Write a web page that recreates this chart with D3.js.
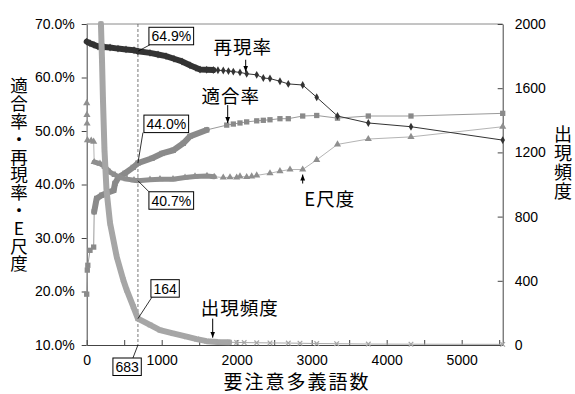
<!DOCTYPE html>
<html>
<head>
<meta charset="utf-8">
<script src="https://cdn.jsdelivr.net/npm/d3@7"></script>
<style>
  body { margin: 0; background: #fff; }
  text { font-family: "Liberation Sans", Arial, sans-serif; }
  .jp { font-family: "Noto Sans CJK JP", sans-serif; }
</style>
</head>
<body>
<svg width="575" height="394"></svg>
<script>
// [要注意多義語数, 値]
const recall = [[0,66.7],[44,66.4],[97,66.1],[151,65.8],[231,65.7],[311,65.6],[417,65.4],[524,65.25],[631,65.1],[683,64.9],
  [844,64.6],[951,64.3],[1057,64.0],[1164,63.5],[1271,63.0],[1377,62.3],[1457,61.8],[1511,61.5],[1600,61.45],[1688,61.4],
  [1750,61.35],[1821,61.3],[1890,61.2],[1955,61.1],[2044,60.95],[2133,60.7],[2267,60.5],[2355,59.9],[2444,59.8],
  [2577,59.3],[2688,58.8],[2880,58.6],[3067,56.3],[3344,52.8],[3755,51.5],[4324,50.8],[5547,48.3]];

const precision = [[0,19.5],[8,24.0],[15,24.9],[44,27.7],[93,28.3],[100,34.9],[133,37.4],[200,38.0],[267,38.4],[360,38.9],
  [377,40.2],[427,41.4],[511,42.1],[620,43.2],[683,44.0],[871,44.9],[1004,45.8],[1155,46.4],[1288,47.7],[1377,49.0],
  [1600,50.2],[1867,51.1],[1955,51.3],[2044,51.5],[2133,51.7],[2267,51.9],[2355,52.0],[2444,52.1],[2577,52.3],
  [2688,52.3],[2880,52.8],[3067,52.9],[3344,52.4],[3755,52.8],[4324,52.8],[5547,53.3]];

const eMeasure = [[0,55.2],[3,53.0],[5,51.4],[10,48.3],[60,48.2],[93,48.0],[100,44.2],[177,43.9],[244,43.3],[311,42.3],
  [377,41.8],[444,41.3],[537,41.0],[631,40.8],[683,40.7],[844,40.9],[977,41.0],[1151,41.0],[1311,41.3],[1444,41.5],
  [1604,41.6],[1700,41.45],[1821,41.3],[1911,41.35],[2000,41.3],[2044,41.5],[2133,41.4],[2200,41.5],[2267,41.7],
  [2444,42.1],[2577,42.5],[2711,42.8],[2880,42.8],[3067,44.6],[3344,47.5],[3755,48.5],[4324,48.9],[5547,50.8]];

const frequency = [[190,2000],[204,1776],[217,1527],[237,1216],[264,966],[311,760],[400,550],[488,405],[533,343],
  [621,239],[683,164],[844,125],[977,93],[1151,72],[1333,52],[1467,37],[1600,24],[1750,18],[1900,17],[2000,16],
  [2100,15],[2267,14],[2444,13],[2688,12],[2844,11],[3067,9],[3333,8],[3755,6],[4324,5],[5547,4]];

const pctTicks = [10, 20, 30, 40, 50, 60, 70];
const freqTicks = [0, 400, 800, 1200, 1600, 2000];
const wordTicks = [0, 500, 1000, 1500, 2000, 2500, 3000, 3500, 4000, 4500, 5000, 5500];

// 683語の地点の値
const markX = 683;
const markRecall = 64.9, markPrecision = 44.0, markE = 40.7, markFreq = 164;

const margin = {top: 24, right: 72.3, bottom: 49, left: 86.7},
  width = 575 - margin.left - margin.right,
  height = 394 - margin.top - margin.bottom;

const svg = d3.select("svg")
  .append("g")
  .attr("transform", `translate(${margin.left}, ${margin.top})`);

const x = d3.scaleLinear().domain([0, 5547]).range([0, width]);
const yL = d3.scaleLinear().domain([10, 70]).range([height, 0]);
const yR = d3.scaleLinear().domain([0, 2000]).range([height, 0]);

// top border
svg.append("line")
  .attr("x1", 0).attr("x2", width).attr("y1", 0).attr("y2", 0)
  .attr("stroke", "#8a8a8a");

// axes
const styleAxis = g => {
  g.select(".domain").attr("stroke", "#444");
  g.selectAll(".tick line").attr("stroke", "#444");
  g.selectAll("text").attr("font-size", 14).attr("fill", "#000")
    .attr("font-family", "Liberation Sans, Arial, sans-serif");
};

svg.append("g")
  .call(d3.axisLeft(yL).tickValues(pctTicks).tickSize(5).tickSizeOuter(0).tickPadding(7)
    .tickFormat(d => d.toFixed(1) + "%"))
  .call(styleAxis);

svg.append("g")
  .attr("transform", `translate(${width}, 0)`)
  .call(d3.axisRight(yR).tickValues(freqTicks).tickSizeInner(-5).tickSizeOuter(0).tickPadding(12)
    .tickFormat(d3.format("d")))
  .call(styleAxis);

svg.append("g")
  .attr("transform", `translate(0, ${height})`)
  .call(d3.axisBottom(x).tickValues(wordTicks).tickSizeInner(-5).tickSizeOuter(0).tickPadding(10)
    .tickFormat(d => d % 1000 === 0 ? d : ""))
  .call(styleAxis);

// dashed marker line
svg.append("line")
  .attr("x1", x(markX)).attr("x2", x(markX))
  .attr("y1", 0).attr("y2", height)
  .attr("stroke", "#555").attr("stroke-width", 0.8)
  .attr("stroke-dasharray", "3,2");

// series drawing
function drawSeries(data, yScale, opt) {
  const line = d3.line().x(d => x(d[0])).y(d => yScale(d[1]));
  svg.append("path")
    .datum(data)
    .attr("fill", "none")
    .attr("stroke", opt.line)
    .attr("stroke-width", 1)
    .attr("d", line);
  svg.append("path")
    .datum(data.filter(d => d[0] >= opt.bandFrom && d[0] <= opt.bandTo))
    .attr("fill", "none")
    .attr("stroke", opt.mark)
    .attr("stroke-width", opt.band)
    .attr("stroke-linejoin", "round")
    .attr("stroke-linecap", "round")
    .attr("d", line);
  const g = svg.append("g");
  g.selectAll("path")
    .data(data)
    .join("path")
    .attr("transform", d => `translate(${x(d[0])}, ${yScale(d[1])})`)
    .attr("d", opt.symbol)
    .attr("fill", opt.cross ? "none" : opt.mark)
    .attr("stroke", opt.cross ? opt.mark : "none")
    .attr("stroke-width", 1.2);
}

drawSeries(precision, yL, {line: "#9a9a9a", mark: "#8a8a8a", band: 6, bandFrom: 100, bandTo: 1800,
  symbol: d3.symbol(d3.symbolSquare, 28)()});
drawSeries(eMeasure, yL, {line: "#b4b4b4", mark: "#8f8f8f", band: 5, bandFrom: 100, bandTo: 1750,
  symbol: d3.symbol(d3.symbolTriangle, 22)()});
drawSeries(recall, yL, {line: "#333", mark: "#333", band: 6, bandFrom: 0, bandTo: 1700,
  symbol: d3.symbol(d3.symbolDiamond, 18)()});
drawSeries(frequency, yR, {line: "#a8a8a8", mark: "#a6a6a6", band: 6, bandFrom: 190, bandTo: 1900,
  symbol: "M-2.3,-2.3L2.3,2.3M-2.3,2.3L2.3,-2.3", cross: true});

// value callouts at 683
const callouts = [
  {text: markRecall.toFixed(1) + "%", px: x(markX), py: yL(markRecall), bx: 11, by: -24, lx: 12, ly: "bottom"},
  {text: markPrecision.toFixed(1) + "%", px: x(markX), py: yL(markPrecision), bx: 6, by: -48, lx: 5, ly: "bottom"},
  {text: markE.toFixed(1) + "%", px: x(markX), py: yL(markE), bx: 11, by: 11, lx: 11, ly: "top"},
  {text: String(markFreq), px: x(markX), py: yR(markFreq), bx: 13, by: -39, lx: 14, ly: "bottom"},
  {text: String(markX), px: x(markX), py: height, bx: -25, by: 13, lx: -5, ly: "top"}
];

callouts.forEach(c => {
  const g = svg.append("g");
  const t = g.append("text")
    .attr("font-size", 14)
    .attr("fill", "#000")
    .text(c.text);
  const w = t.node().getComputedTextLength() + 5;
  const h = 17.5;
  const bx = c.px + c.bx, by = c.py + c.by;
  const ly = c.ly === "bottom" ? by + h : by;
  g.insert("line", "text")
    .attr("x1", c.px).attr("y1", c.py)
    .attr("x2", c.px + c.lx).attr("y2", ly)
    .attr("stroke", "#000").attr("stroke-width", 0.8);
  g.insert("rect", "text")
    .attr("x", bx).attr("y", by).attr("width", w).attr("height", h)
    .attr("fill", "#fff").attr("stroke", "#000").attr("stroke-width", 1);
  t.attr("x", bx + 2.5).attr("y", by + 14);
});

// series labels with arrows
svg.append("defs").append("marker")
  .attr("id", "ah").attr("viewBox", "0 0 6 6").attr("refX", 6).attr("refY", 3)
  .attr("markerWidth", 6).attr("markerHeight", 6).attr("orient", "auto")
  .append("path").attr("d", "M0,0.6L6,3L0,5.4Z").attr("fill", "#000");

const labels = [
  {text: "再現率", ax: x(2120), tip: yL(60.7) - 2, tail: yL(60.7) - 14, tx: -3, ty: -6},
  {text: "適合率", ax: x(1880), tip: yL(51.1) - 2, tail: yL(51.1) - 20, tx: 3, ty: -2},
  {text: "E尺度", ax: x(2880), tip: yL(42.8) + 5, tail: yL(42.8) + 14, tx: 27, ty: 22},
  {text: "出現頻度", ax: x(1680), tip: yR(21) - 4, tail: yR(21) - 23, tx: 27, ty: -4}
];

labels.forEach(l => {
  svg.append("line")
    .attr("x1", l.ax).attr("x2", l.ax)
    .attr("y1", l.tail).attr("y2", l.tip)
    .attr("stroke", "#000").attr("stroke-width", 1)
    .attr("marker-end", "url(#ah)");
  svg.append("text")
    .attr("class", "jp")
    .attr("x", l.ax + l.tx)
    .attr("y", l.tail + l.ty)
    .attr("text-anchor", "middle")
    .attr("font-size", 18.5)
    .attr("letter-spacing", 1)
    .text(l.text);
});

// axis titles
const root = d3.select("svg");
root.append("text")
  .attr("class", "jp")
  .attr("x", 297).attr("y", 389)
  .attr("text-anchor", "middle")
  .attr("font-size", 19)
  .attr("letter-spacing", 2)
  .text("要注意多義語数");

root.append("text")
  .attr("class", "jp")
  .attr("x", 19).attr("y", 175)
  .attr("text-anchor", "middle")
  .style("writing-mode", "vertical-rl")
  .style("text-orientation", "upright")
  .attr("font-size", 17.5)
  .attr("letter-spacing", 0.3)
  .text("適合率・再現率・E尺度");

root.append("text")
  .attr("class", "jp")
  .attr("x", 563).attr("y", 163)
  .attr("text-anchor", "middle")
  .style("writing-mode", "vertical-rl")
  .style("text-orientation", "upright")
  .attr("font-size", 18)
  .attr("letter-spacing", 0.7)
  .text("出現頻度");
</script>
</body>
</html>
